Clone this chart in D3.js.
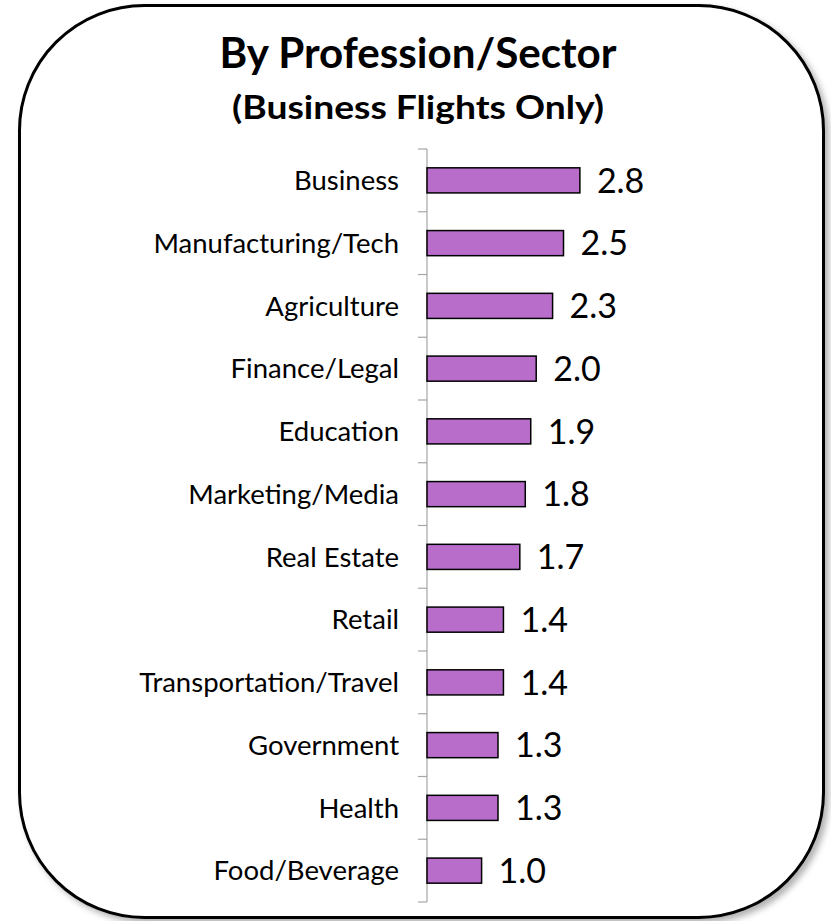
<!DOCTYPE html>
<html>
<head>
<meta charset="utf-8">
<script src="https://cdn.jsdelivr.net/npm/d3@7"></script>
<style>
  html, body { margin: 0; padding: 0; background: #fff; }
  svg { display: block; }
</style>
</head>
<body>
<script>
// Average business flights per year, by profession/sector
const categories = [
  "Business", "Manufacturing/Tech", "Agriculture", "Finance/Legal",
  "Education", "Marketing/Media", "Real Estate", "Retail",
  "Transportation/Travel", "Government", "Health", "Food/Beverage"
];
const values = [2.8, 2.5, 2.3, 2.0, 1.9, 1.8, 1.7, 1.4, 1.4, 1.3, 1.3, 1.0];
const valueLabels = ["2.8", "2.5", "2.3", "2.0", "1.9", "1.8", "1.7", "1.4", "1.4", "1.3", "1.3", "1.0"];
const title = "By Profession/Sector";
const subtitle = "(Business Flights Only)";

const W = 831, H = 921;
const FONT = "Lato, 'Open Sans', sans-serif";

const svg = d3.select("body").append("svg")
  .attr("width", W).attr("height", H);

// soft shadow for the rounded frame
const defs = svg.append("defs");
const f = defs.append("filter").attr("id", "frameShadow")
  .attr("x", "-5%").attr("y", "-5%").attr("width", "115%").attr("height", "115%");
f.append("feDropShadow").attr("dx", 4).attr("dy", 4)
  .attr("stdDeviation", 3).attr("flood-color", "#000").attr("flood-opacity", 0.3);

svg.append("rect")
  .attr("x", 19.5).attr("y", 5.5)
  .attr("width", 804).attr("height", 912)
  .attr("rx", 125).attr("ry", 125)
  .attr("fill", "#fff")
  .attr("stroke", "#000").attr("stroke-width", 3)
  .attr("filter", "url(#frameShadow)");

// titles
svg.append("text")
  .attr("x", 418).attr("y", 68)
  .attr("text-anchor", "middle")
  .attr("font-family", FONT).attr("font-weight", 700)
  .attr("font-size", 42)
  .attr("textLength", 397).attr("lengthAdjust", "spacingAndGlyphs")
  .text(title);

svg.append("text")
  .attr("x", 418).attr("y", 119)
  .attr("text-anchor", "middle")
  .attr("font-family", FONT).attr("font-weight", 700)
  .attr("font-size", 33)
  .attr("textLength", 372).attr("lengthAdjust", "spacingAndGlyphs")
  .text(subtitle);

// scales
const x0 = 427;
const x = d3.scaleLinear().domain([0, 3]).range([x0, x0 + 163.8]);
const y = d3.scaleBand().domain(categories)
  .range([149, 902]).paddingInner(0.6).paddingOuter(0.3);

// category axis: line plus ticks at band boundaries
const axis = svg.append("g").attr("class", "y-axis");
axis.append("line")
  .attr("x1", x0).attr("x2", x0)
  .attr("y1", y.range()[0]).attr("y2", y.range()[1])
  .attr("stroke", "#a6a6a6").attr("stroke-width", 1.2);

const boundaries = d3.range(categories.length + 1)
  .map(i => y.range()[0] + i * y.step());
axis.selectAll("line.tick").data(boundaries).join("line")
  .attr("class", "tick")
  .attr("x1", x0 - 9).attr("x2", x0)
  .attr("y1", d => d).attr("y2", d => d)
  .attr("stroke", "#a6a6a6").attr("stroke-width", 1.2);

axis.selectAll("text.cat").data(categories).join("text")
  .attr("class", "cat")
  .attr("x", 399)
  .attr("y", d => y(d) + y.bandwidth() / 2)
  .attr("dy", "0.35em")
  .attr("text-anchor", "end")
  .attr("font-family", FONT).attr("font-size", 27.5)
  .attr("fill", "#000")
  .text(d => d);

// bars
const data = categories.map((c, i) => ({ c, v: values[i], label: valueLabels[i] }));

svg.selectAll("rect.bar").data(data).join("rect")
  .attr("class", "bar")
  .attr("x", x(0))
  .attr("y", d => y(d.c))
  .attr("width", d => x(d.v) - x(0))
  .attr("height", y.bandwidth())
  .attr("fill", "#b96dca")
  .attr("stroke", "#000").attr("stroke-width", 1.5);

// value labels
svg.selectAll("text.val").data(data).join("text")
  .attr("class", "val")
  .attr("x", d => x(d.v) + 17)
  .attr("y", d => y(d.c) + y.bandwidth() / 2)
  .attr("dy", "0.36em")
  .attr("font-family", FONT).attr("font-size", 34)
  .attr("fill", "#000")
  .text(d => d.label);
</script>
</body>
</html>
